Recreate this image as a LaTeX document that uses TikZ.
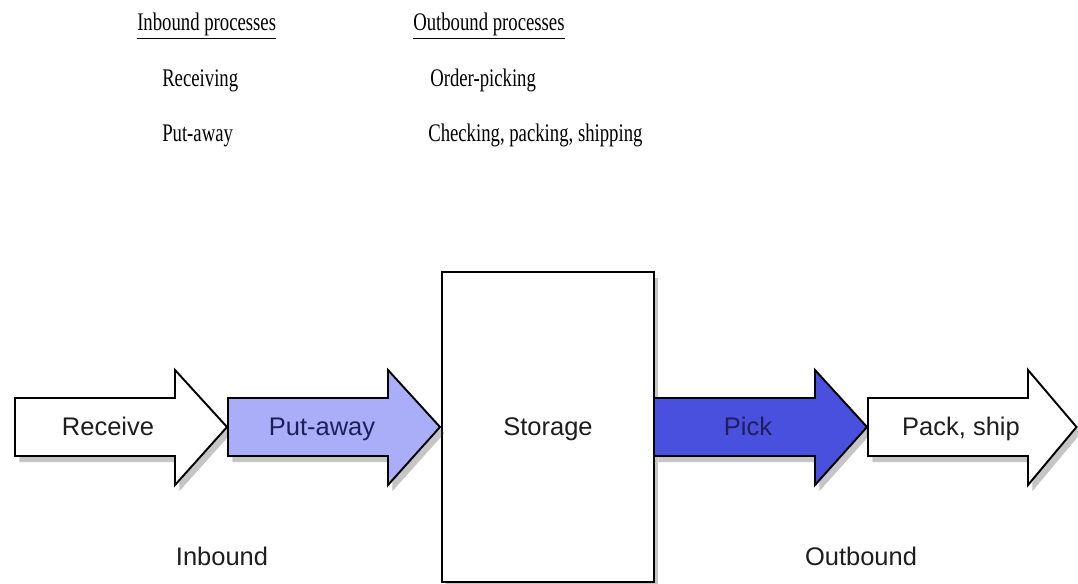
\documentclass[tikz,border=0pt]{standalone}
\usepackage{fontspec}
\setmainfont{Liberation Serif}
\setsansfont{Liberation Sans}
\usetikzlibrary{shadows}
\definecolor{lightblue}{RGB}{170,174,248}
\definecolor{darkblue}{RGB}{74,80,222}
\definecolor{navytext}{RGB}{28,32,90}
\definecolor{greytext}{RGB}{30,30,30}
\begin{document}
\begin{tikzpicture}[x=0.02cm,y=-0.02cm,
  shapebox/.style={draw=black,line width=1.1pt,line join=miter,
    drop shadow={shadow xshift=2.5pt,shadow yshift=-3.5pt,opacity=0.3,fill=black!75}},
  lbl/.style={font=\sffamily\fontsize{14.5}{16}\selectfont,text=greytext,anchor=base,inner sep=0pt},
  bluelbl/.style={lbl,text=navytext},
  head/.style={font=\rmfamily\fontsize{14.4}{16}\selectfont,anchor=base west,inner sep=0pt,xscale=0.74,transform shape},
]
\useasboundingbox (0,0) rectangle (1078,584);
% storage box
\path[shapebox,fill=white] (442,272) rectangle (654,582);
% arrows: body 398..456, head 370..485, tip y=427
\path[shapebox,fill=white] (15,398) -- (175,398) -- (175,370) -- (227,427) -- (175,485) -- (175,456) -- (15,456) -- cycle;
\path[shapebox,fill=lightblue] (228,398) -- (388,398) -- (388,370) -- (440,427) -- (388,485) -- (388,456) -- (228,456) -- cycle;
\path[shapebox,fill=darkblue] (654,398) -- (815,398) -- (815,370) -- (867,427) -- (815,485) -- (815,456) -- (654,456) -- cycle;
\path[shapebox,fill=white] (868,398) -- (1028,398) -- (1028,370) -- (1076.5,427) -- (1028,485) -- (1028,456) -- (868,456) -- cycle;
% redraw storage right edge over pick arrow
\draw[line width=1.1pt] (654,272) -- (654,582);
% labels
\node[lbl] (receive) at (108,435) {Receive};
\node[bluelbl] (putaway) at (322,435) {Put-away};
\node[lbl] (storage) at (548,435) {Storage};
\node[bluelbl] (pick) at (748,435) {Pick};
\node[lbl] (packship) at (961,435) {Pack, ship};
\node[lbl] (inbound) at (222,565) {Inbound};
\node[lbl] (outbound) at (861,565) {Outbound};
% top text
\node[head] (inhead) at (137,31) {\underline{Inbound processes}};
\node[head] (outhead) at (413,31) {\underline{Outbound processes}};
\node[head] (recv) at (162,86.5) {Receiving};
\node[head] (put) at (162,142) {Put-away};
\node[head] (order) at (430,86.5) {Order-picking};
\node[head] (check) at (428,142) {Checking, packing, shipping};
\end{tikzpicture}
\end{document}
